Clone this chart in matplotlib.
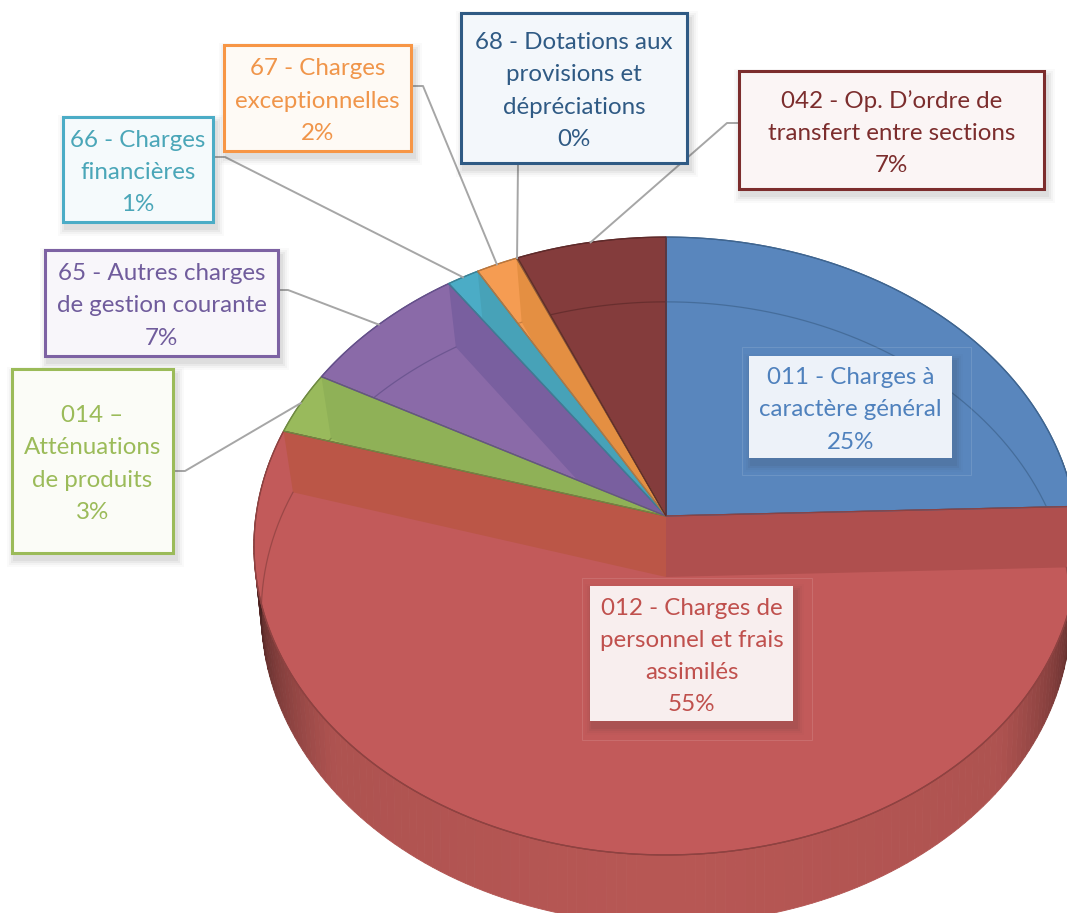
"""
plot.py
-------
Perspective pie of operating expenses by chapter, with callout boxes.
Everything is laid out in image pixels (x right, y down).
"""

import numpy as np
import matplotlib
matplotlib.use("Agg")
import matplotlib.pyplot as plt
from matplotlib.patches import Polygon, Rectangle

WIDTH, HEIGHT = 1067, 913
HUB = (666, 516)
FLOOR_HUB = (666, 577)

# ---- Data (clockwise from 12 o'clock) ----
chapters = ["011", "012", "014", "65", "66", "67", "68", "042"]
shares = [24.5, 55.1, 3.3, 7.4, 1.4, 1.8, 0.05, 6.45]
percent_labels = ["25%", "55%", "3%", "7%", "1%", "2%", "0%", "7%"]
names = [
    "011 - Charges à\ncaractère général",
    "012 - Charges de\npersonnel et frais\nassimilés",
    "014 –\nAtténuations\nde produits",
    "65 - Autres charges\nde gestion courante",
    "66 - Charges\nfinancières",
    "67 - Charges\nexceptionnelles",
    "68 - Dotations aux\nprovisions et\ndépréciations",
    "042 - Op. D’ordre de\ntransfert entre sections",
]

# ---- Styles ----
TOP_COLORS = ["#5986bd", "#c25a5a", "#99ba5c", "#8a6aa8", "#4bacc6", "#f59c52", "#a8683c", "#843c3c"]
WALL_END = ["#5986bd", "#bb5647", "#8fb157", "#795f9f", "#47a2b8", "#e48f42", "#a8683c", "#843c3c"]
WALL_START = ["#5986bd", "#af4f4e", "#99ba5c", "#8a6aa8", "#4bacc6", "#f59c52", "#a8683c", "#843c3c"]
EDGE_COLORS = ["#3f6590", "#8e4241", "#6f8a42", "#64508a", "#3a8296", "#b9763c", "#8a5a38", "#5f2a2a"]

TEXT_COLORS = ["#4f81bd", "#c0504d", "#9bbb59", "#705c9c", "#4aa6b8", "#f0954a", "#2f5a84", "#7c2d2d"]
BOX_EDGES = [None, None, "#9bbb59", "#7d62a3", "#4bacc6", "#f79646", "#2f5a84", "#7c2d2d"]
BOX_FILLS = ["#edf2f9", "#f8eeee", "#fbfcf7", "#f8f6fa", "#f5fafc", "#fefaf5", "#f3f7fb", "#fbf5f5"]
# left, top, right, bottom
BOXES = [
    (749, 356, 952, 458),
    (590, 586, 793, 721),
    (12, 369, 173, 553),
    (45, 250, 278, 356),
    (63, 117, 213, 222),
    (224, 45, 411, 151),
    (461, 13, 687, 163),
    (739, 71, 1044, 189),
]
# where the leader leaves the box; None = label sits on the slice
LEADER_START = [None, None, (173, 471, 185), (278, 290, 288), (213, 157, 225), (411, 86, 423), (518, 163, 518), (739, 123, 727)]
GHOST_FRAMES = {0: (742, 347, 971, 475), 1: (582, 578, 812, 740)}

FONT = "Lato"
FONT_SIZE = 17.4
TEXT_DROP = 3  # px, text block sits a bit below the box centre


def rim_point(frac, level=0.0):
    """Project a pie fraction onto the top rim (level 0) or the floor (level 1)."""
    theta = 2 * np.pi * np.asarray(frac)
    x_w, y_w = np.sin(theta), np.cos(theta)
    k = 0.0971 + 0.0187 * level
    den = 1 + k * y_w
    x = 666 + (410 - 8 * level) * x_w / den
    y = 516 + 61 * level - (306 + level) * y_w / den
    return x, y


def arc(start, end, level=0.0):
    frac = np.linspace(start, end, max(int((end - start) * 720), 2) + 1)
    return np.column_stack(rim_point(frac, level))


def wall_quad(frac):
    """Inner wall of a slice edge: hub, rim point, floor point, floor hub."""
    return [HUB, rim_point(frac, 0), rim_point(frac, 1), FLOOR_HUB]


def draw_side_wall(ax):
    """Outer wall, shaded darker toward both silhouette ends."""
    steps = np.linspace(0.22, 0.78, 161)
    shade_pos = [0, 50, 65, 85, 100]
    shade_r = [0.72, 0.68, 0.52, 0.27, 0.25]
    for a, b in zip(steps[:-1], steps[1:]):
        off = abs((a + b) / 2 - 0.5) * 360
        r = np.interp(off, shade_pos, shade_r)
        col = (r, r * 0.475, r * 0.46)
        pts = np.vstack([arc(a, b, 0), arc(a, b, 1)[::-1]])
        ax.add_patch(Polygon(pts, facecolor=col, edgecolor=col, lw=0.6, zorder=1))
    # lower outline of the top face
    pts = arc(0.25, 0.75, 0)
    ax.plot(pts[:, 0], pts[:, 1], color="#9c4644", lw=1.0, zorder=1.5)


def draw_slices(ax):
    cum = np.concatenate([[0], np.cumsum(shares)]) / 100.0
    for i in range(len(shares)):
        start, end = cum[i], cum[i + 1]
        pts = np.vstack([[HUB], arc(start, end, 0)])
        patch = Polygon(pts, facecolor=TOP_COLORS[i], edgecolor=EDGE_COLORS[i], lw=0.9, zorder=2)
        ax.add_patch(patch)
        for frac, col in ((end, WALL_END[i]), (start, WALL_START[i])):
            wall = Polygon(wall_quad(frac), facecolor=col, edgecolor="none", zorder=2.1)
            ax.add_patch(wall)
            wall.set_clip_path(patch)
        floor = arc(start, end, 1)
        line, = ax.plot(floor[:, 0], floor[:, 1], color=EDGE_COLORS[i], lw=0.9, alpha=0.75, zorder=2.2)
        line.set_clip_path(patch)
        ax.add_patch(Polygon(pts, facecolor="none", edgecolor=EDGE_COLORS[i], lw=0.9, zorder=2.3))
    return cum


def draw_box(ax, i):
    left, top, right, bottom = BOXES[i]
    w, h = right - left, bottom - top
    # soft drop shadow, bottom right
    for grow, alpha in ((8, 0.02), (6, 0.03), (4, 0.05), (2, 0.06)):
        ax.add_patch(Rectangle((left + 3 - grow, top + 6 - grow), w + 2 * grow, h + 2 * grow,
                               facecolor="#303030", edgecolor="none", alpha=alpha, zorder=4))
    edge = BOX_EDGES[i]
    ax.add_patch(Rectangle((left, top), w, h, facecolor=BOX_FILLS[i],
                           edgecolor=edge if edge else "none", lw=2.2, zorder=5))
    ax.text((left + right) / 2, (top + bottom) / 2 + TEXT_DROP, names[i] + "\n" + percent_labels[i],
            ha="center", va="center", color=TEXT_COLORS[i], fontsize=FONT_SIZE,
            family=[FONT, "DejaVu Sans"], linespacing=1.65, zorder=6)


def main():
    fig = plt.figure(figsize=(WIDTH / 100, HEIGHT / 100), dpi=100, facecolor="white")
    ax = fig.add_axes([0, 0, 1, 1])
    ax.set_xlim(0, WIDTH)
    ax.set_ylim(HEIGHT, 0)
    ax.axis("off")

    draw_side_wall(ax)
    cum = draw_slices(ax)

    # ---- Leader lines, ending at the middle of each slice's rim ----
    for i, start in enumerate(LEADER_START):
        if start is None:
            continue
        x0, y0, x1 = start
        xe, ye = rim_point((cum[i] + cum[i + 1]) / 2)
        ax.plot([x0, x1, xe], [y0, y0, ye], color="#a6a6a6", lw=1.4, zorder=3, solid_joinstyle="round")

    for i, (l, t, r, b) in GHOST_FRAMES.items():
        ax.add_patch(Rectangle((l, t), r - l, b - t, facecolor="none", edgecolor="white",
                               lw=0.7, alpha=0.12, zorder=3))

    for i in range(len(chapters)):
        draw_box(ax, i)

    fig.savefig("out.png", dpi=100)
    plt.close(fig)


if __name__ == "__main__":
    main()
